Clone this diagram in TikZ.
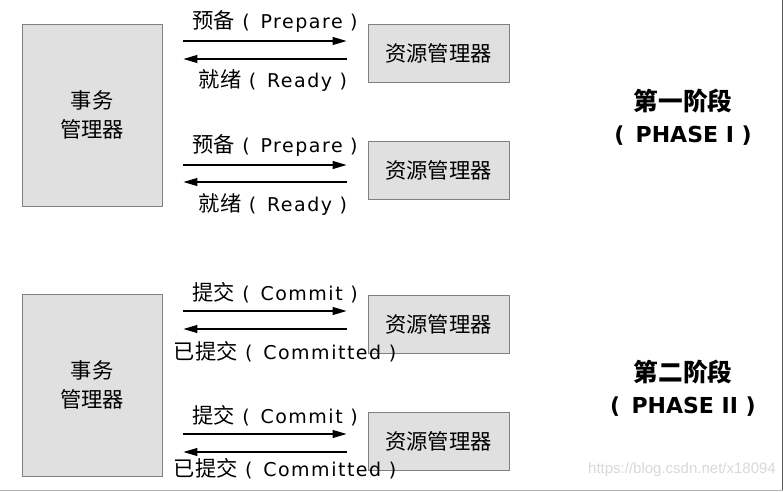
\documentclass[tikz,border=0pt]{standalone}
\usepackage{fontspec}
\setmainfont{DejaVu Sans}
\newfontfamily\lf[LetterSpace=8]{DejaVu Sans}
\newfontfamily\cjk[Scale=1.12]{Noto Sans CJK SC}
\newfontfamily\wmfont{Liberation Sans}
\usetikzlibrary{arrows.meta}
\newcommand{\zh}[1]{{\cjk #1}}
\begin{document}
\begin{tikzpicture}[x=1pt,y=-1pt,
  tmbox/.style={draw=black!50,fill=black!12,line width=0.9pt,minimum width=140pt,minimum height=182pt,inner sep=0pt,align=center,font=\fontsize{19}{29}\selectfont},
  rmbox/.style={draw=black!50,fill=black!12,line width=0.9pt,minimum width=141pt,minimum height=58pt,inner sep=0pt,font=\fontsize{19}{24}\selectfont},
  lbl/.style={inner sep=0pt,font=\lf\fontsize{19}{24}\selectfont},
  phase/.style={inner sep=0pt,align=center,font=\fontsize{22}{32}\selectfont\bfseries},
  arr/.style={line width=1.1pt,-{Triangle[length=14pt,width=8pt]}},
]
\useasboundingbox (0,0) rectangle (784,492);
\fill[white] (0,0) rectangle (784,492);
% frame lines
\coordinate (fr1) at (782.5,0);
\coordinate (fr2) at (782.5,490);
\coordinate (fr3) at (0,490);
\draw[black!65,line width=1.2pt] (fr1) -- (fr2);
\draw[black!30,line width=1pt] (fr3) -- (fr2);

% ===== Phase I =====
\node[tmbox] (tm1) at (92,115) {\zh{事务}\\\zh{管理器}};
\node[rmbox] (rm1) at (438.5,53) {\zh{资源管理器}};
\node[rmbox] (rm2) at (438.5,170.5) {\zh{资源管理器}};

\coordinate (y1) at (0,41);
\coordinate (y2) at (0,59);
\coordinate (y3) at (0,165);
\coordinate (y4) at (0,182);
\draw[arr,shorten <=21pt,shorten >=21pt] (tm1.east |- y1) -- (rm1.west |- y1);
\draw[arr,shorten <=21pt,shorten >=21pt] (rm1.west |- y2) -- (tm1.east |- y2);
\draw[arr,shorten <=21pt,shorten >=21pt] (tm1.east |- y3) -- (rm2.west |- y3);
\draw[arr,shorten <=21pt,shorten >=21pt] (rm2.west |- y4) -- (tm1.east |- y4);

\node[lbl] (l1) at (275,22) {\zh{预备} ( \,Prepare )};
\node[lbl] (l2) at (273,81) {\zh{就绪} ( \,Ready )};
\node[lbl] (l3) at (275,146) {\zh{预备} ( \,Prepare )};
\node[lbl] (l4) at (273,205) {\zh{就绪} ( \,Ready )};

\node[phase] (p1) at (683,117) {\zh{第一阶段}\\( \,PHASE I )};

% ===== Phase II =====
\node[tmbox] (tm2) at (92,385) {\zh{事务}\\\zh{管理器}};
\node[rmbox] (rm3) at (438.5,324) {\zh{资源管理器}};
\node[rmbox] (rm4) at (438.5,441.5) {\zh{资源管理器}};

\coordinate (y5) at (0,311);
\coordinate (y6) at (0,329);
\coordinate (y7) at (0,434);
\coordinate (y8) at (0,452);
\draw[arr,shorten <=21pt,shorten >=21pt] (tm2.east |- y5) -- (rm3.west |- y5);
\draw[arr,shorten <=21pt,shorten >=21pt] (rm3.west |- y6) -- (tm2.east |- y6);
\draw[arr,shorten <=21pt,shorten >=21pt] (tm2.east |- y7) -- (rm4.west |- y7);
\draw[arr,shorten <=21pt,shorten >=21pt] (rm4.west |- y8) -- (tm2.east |- y8);

\node[lbl] (l5) at (275,293) {\zh{提交} ( \,Commit )};
\node[lbl] (l6) at (285,352) {\zh{已提交} ( \,Committed )};
\node[lbl] (l7) at (275,416) {\zh{提交} ( \,Commit )};
\node[lbl] (l8) at (285,469) {\zh{已提交} ( \,Committed )};

\node[phase] (p2) at (683,388) {\zh{第二阶段}\\( \,PHASE II )};

% watermark
\node[inner sep=0pt,anchor=east,text=black!15,font=\wmfont\fontsize{15}{18}\selectfont] (wm) at (776,470) {https://blog.csdn.net/x18094};
\end{tikzpicture}
\end{document}
